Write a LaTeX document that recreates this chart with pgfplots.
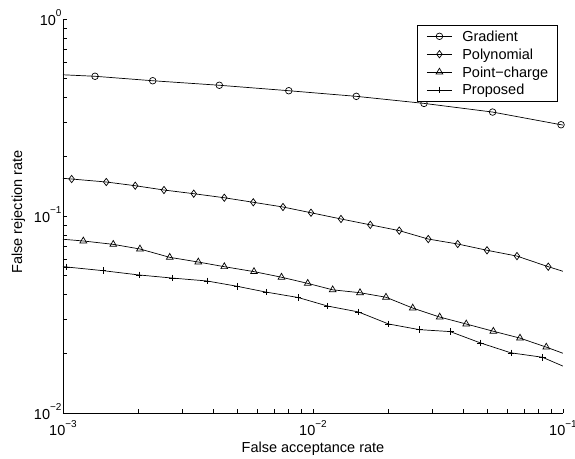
\documentclass[border=0pt]{standalone}
\usepackage{fontspec}
\setmainfont{Liberation Sans}
\usepackage{pgfplots}
\pgfplotsset{compat=1.18}
\newcommand{\fs}{\fontsize{14.5}{17}\selectfont}
\newcommand{\tenexp}[1]{10\raisebox{8.5pt}{\fontsize{10}{10}\selectfont #1}}
\begin{document}
\begin{tikzpicture}
\useasboundingbox (-63pt,-45pt) rectangle (512pt,413pt);
\begin{loglogaxis}[
  at={(0pt,0pt)}, anchor=south west,
  scale only axis, width=500pt, height=394pt,
  xmin=1e-3, xmax=1e-1, ymin=1e-2, ymax=1,
  axis x line=bottom, axis y line=left,
  axis line style={-, line width=0.7pt},
  tick align=inside, major tick length=4.5pt, minor tick length=4.5pt,
  tick style={line width=0.7pt, black},
  xtick={1e-3,1e-2,1e-1},
  xticklabels={\tenexp{−3},\tenexp{−2},\tenexp{−1}},
  ytick={1e-2,1e-1,1},
  yticklabels={\tenexp{−2},\tenexp{−1},\tenexp{0}},
  minor xtick={2e-3,3e-3,4e-3,5e-3,6e-3,7e-3,8e-3,9e-3,2e-2,3e-2,4e-2,5e-2,6e-2,7e-2,8e-2,9e-2},
  minor ytick={2e-2,3e-2,4e-2,5e-2,6e-2,7e-2,8e-2,9e-2,0.2,0.3,0.4,0.5,0.6,0.7,0.8,0.9},
  xticklabel style={font=\fs, inner sep=0pt, anchor=base, yshift=-22.7pt},
  yticklabel style={font=\fs, inner sep=0pt, anchor=base east, xshift=-1.3pt, yshift=-6.3pt},
  xlabel={False acceptance rate},
  ylabel={False rejection rate},
  xlabel style={font=\fs, at={(axis description cs:0.5,0)}, anchor=base, yshift=-39.7pt},
  ylabel style={font=\fs, at={(axis description cs:-0.0894,0.51)}, anchor=center},
  every axis plot/.append style={black, line width=0.7pt, mark options={solid}},
  legend style={at={(rel axis cs:0.989,0.9855)}, anchor=north east, draw=black,
    line width=0.7pt, fill=white, inner xsep=9pt, inner ysep=4.15pt,
    row sep=3.7pt, column sep=10pt, font=\fs,
    nodes={inner sep=0pt, text height=12pt, text depth=2.2pt}},
  legend cell align=left,
  legend image code/.code={%
    \draw (0pt,0pt) -- (25pt,0pt);
    \draw[mark indices={1}] plot coordinates {(12.5pt,0pt)};},
]
% Gradient
\addplot[mark=o, mark size=3.3pt, mark indices={2,3,4,5,6,7,8,9}] coordinates {
  (0.001,0.521) (0.001343,0.512) (0.002285,0.486) (0.00422,0.461)
  (0.0080,0.4325) (0.0149,0.405) (0.0278,0.373) (0.0523,0.337)
  (0.0982,0.2906) (0.1,0.2895) };
\addlegendentry{Gradient}
% Polynomial
\addplot[mark=diamond, mark size=3.65pt, mark indices={2,3,4,5,6,7,8,9,10,11,12,13,14,15,16,17,18}] coordinates {
  (0.001,0.1554) (0.001083,0.1541) (0.00149,0.1488) (0.001945,0.1425)
  (0.002535,0.1355) (0.003334,0.1298) (0.004418,0.1238) (0.00577,0.1174)
  (0.007586,0.1111) (0.009817,0.1039) (0.01294,0.0966) (0.01695,0.0902)
  (0.02213,0.0843) (0.02891,0.0764) (0.03793,0.0721) (0.04966,0.0670)
  (0.06546,0.0626) (0.0873,0.0553) (0.1,0.0524) };
\addlegendentry{Polynomial}
% Point-charge
\addplot[mark=triangle, mark size=3.9pt, mark indices={2,3,4,5,6,7,8,9,10,11,12,13,14,15,16,17,18,19}] coordinates {
  (0.001,0.0762) (0.001206,0.0747) (0.001589,0.0718) (0.002032,0.0680)
  (0.002673,0.0617) (0.003477,0.0584) (0.004418,0.0553) (0.005808,0.0522)
  (0.007482,0.0489) (0.009527,0.0455) (0.01199,0.0422) (0.01542,0.0408)
  (0.01959,0.0387) (0.02506,0.0341) (0.03213,0.0307) (0.04102,0.0283)
  (0.05265,0.0260) (0.0673,0.0240) (0.08575,0.0216) (0.1,0.0201) };
\addlegendentry{Point−charge}
% Proposed
\addplot[mark=+, mark size=3.3pt, mark indices={2,3,4,5,6,7,8,9,10,11,12,13,14,15,16,17}] coordinates {
  (0.001,0.0554) (0.001035,0.0551) (0.001445,0.0528) (0.002014,0.0502)
  (0.002746,0.0484) (0.003767,0.0468) (0.004966,0.0440) (0.006486,0.0411)
  (0.00871,0.0386) (0.01145,0.0349) (0.01518,0.0326) (0.02008,0.0283)
  (0.02661,0.0265) (0.0354,0.0259) (0.04668,0.0227) (0.06194,0.0202)
  (0.08265,0.0192) (0.1,0.0173) };
\addlegendentry{Proposed}
\end{loglogaxis}
\end{tikzpicture}
\end{document}
